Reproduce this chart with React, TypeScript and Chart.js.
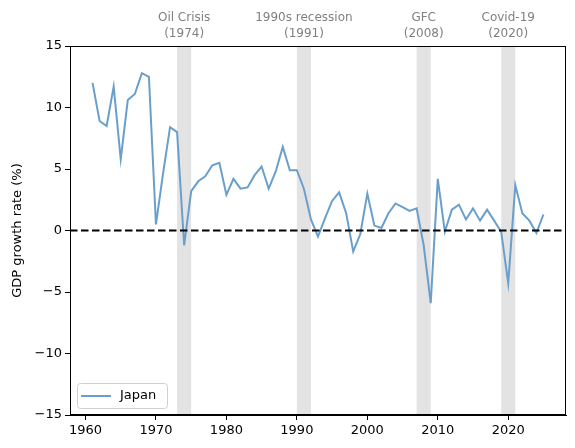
import { useEffect, useRef } from "react";
import { Chart, registerables } from "chart.js";

Chart.register(...registerables);

// anos e crescimento do PIB (Japão)
const years = [
  1961, 1962, 1963, 1964, 1965, 1966, 1967, 1968, 1969, 1970,
  1971, 1972, 1973, 1974, 1975, 1976, 1977, 1978, 1979, 1980,
  1981, 1982, 1983, 1984, 1985, 1986, 1987, 1988, 1989, 1990,
  1991, 1992, 1993, 1994, 1995, 1996, 1997, 1998, 1999, 2000,
  2001, 2002, 2003, 2004, 2005, 2006, 2007, 2008, 2009, 2010,
  2011, 2012, 2013, 2014, 2015, 2016, 2017, 2018, 2019, 2020,
  2021, 2022, 2023, 2024, 2025,
];
const growth = [
  12.0, 8.9, 8.5, 11.7, 5.8, 10.6, 11.1, 12.8, 12.5, 0.5,
  4.6, 8.4, 8.0, -1.2, 3.2, 4.0, 4.4, 5.3, 5.5, 2.9,
  4.2, 3.4, 3.5, 4.5, 5.2, 3.4, 4.8, 6.8, 4.9, 4.9,
  3.4, 0.9, -0.5, 1.0, 2.4, 3.1, 1.4, -1.7, -0.3, 3.0,
  0.4, 0.2, 1.4, 2.2, 1.9, 1.6, 1.8, -1.2, -5.9, 4.2,
  -0.1, 1.7, 2.1, 0.9, 1.8, 0.8, 1.7, 0.8, -0.1, -4.3,
  3.7, 1.4, 0.8, -0.2, 1.3,
];

// crises: início, fim, ano do rótulo
const crisisNames = ["Oil Crisis", "1990s recession", "GFC", "Covid-19"];
const crisisStart = [1973, 1990, 2007, 2019];
const crisisEnd = [1975, 1992, 2009, 2021];
const crisisYear = [1974, 1991, 2008, 2020];

const xTicks = [1960, 1970, 1980, 1990, 2000, 2010, 2020];

const FONT = "'DejaVu Sans', sans-serif";

const extrasPlugin = {
  id: "extras",
  beforeDatasetsDraw(chart: any) {
    const { ctx, chartArea, scales } = chart;
    ctx.save();
    ctx.fillStyle = "rgba(128,128,128,0.22)";
    crisisStart.forEach((s, i) => {
      const x0 = scales.x.getPixelForValue(s);
      const x1 = scales.x.getPixelForValue(crisisEnd[i]);
      ctx.fillRect(x0, chartArea.top, x1 - x0, chartArea.bottom - chartArea.top);
    });
    ctx.restore();
  },
  afterDatasetsDraw(chart: any) {
    const { ctx, chartArea, scales } = chart;
    ctx.save();
    // linha do zero
    const y0 = scales.y.getPixelForValue(0);
    ctx.strokeStyle = "#000";
    ctx.lineWidth = 2;
    ctx.setLineDash([7.5, 3.5]);
    ctx.beginPath();
    ctx.moveTo(chartArea.left, y0);
    ctx.lineTo(chartArea.right, y0);
    ctx.stroke();
    ctx.setLineDash([]);

    // moldura
    ctx.lineWidth = 1;
    ctx.strokeRect(
      chartArea.left + 0.5,
      chartArea.top + 0.5,
      chartArea.right - chartArea.left - 1,
      chartArea.bottom - chartArea.top - 1
    );

    // rótulos das crises
    ctx.fillStyle = "#808080";
    ctx.font = `12px ${FONT}`;
    ctx.textAlign = "center";
    ctx.textBaseline = "middle";
    crisisNames.forEach((name, i) => {
      const x = scales.x.getPixelForValue(crisisYear[i]);
      ctx.fillText(name, x, chartArea.top - 28);
      ctx.fillText(`(${crisisYear[i]})`, x, chartArea.top - 12);
    });

    // legenda
    const lx = chartArea.left + 7;
    const ly = chartArea.bottom - 32;
    ctx.fillStyle = "rgba(255,255,255,0.8)";
    ctx.strokeStyle = "#d0d0d0";
    ctx.lineWidth = 1;
    ctx.beginPath();
    ctx.roundRect(lx + 0.5, ly + 0.5, 90, 25, 3);
    ctx.fill();
    ctx.stroke();
    ctx.strokeStyle = "#6b9fcb";
    ctx.lineWidth = 2;
    ctx.beginPath();
    ctx.moveTo(lx + 4, ly + 13);
    ctx.lineTo(lx + 34, ly + 13);
    ctx.stroke();
    ctx.fillStyle = "#000";
    ctx.font = `13px ${FONT}`;
    ctx.textAlign = "left";
    ctx.fillText("Japan", lx + 43, ly + 13);
    ctx.restore();
  },
};

export default function App() {
  const canvasRef = useRef<HTMLCanvasElement>(null);
  const chartRef = useRef<Chart | null>(null);

  useEffect(() => {
    document.body.style.margin = "0";
    if (!canvasRef.current) return;
    if (chartRef.current) chartRef.current.destroy();

    chartRef.current = new Chart(canvasRef.current, {
      type: "line",
      data: {
        datasets: [
          {
            label: "Japan",
            data: years.map((y, i) => ({ x: y, y: growth[i] })),
            borderColor: "#6b9fcb",
            borderWidth: 2,
            pointRadius: 0,
            tension: 0,
            fill: false,
          },
        ],
      },
      options: {
        animation: false,
        responsive: false,
        maintainAspectRatio: false,
        layout: { padding: { top: 46, right: 9, left: 0, bottom: 0 } },
        plugins: {
          legend: { display: false },
          tooltip: { enabled: false },
        },
        scales: {
          x: {
            type: "linear",
            min: 1957.8,
            max: 2028.2,
            afterBuildTicks: (scale: any) => {
              scale.ticks = xTicks.map((v) => ({ value: v }));
            },
            afterFit: (scale: any) => {
              scale.height = 33;
            },
            grid: {
              drawOnChartArea: false,
              drawTicks: true,
              tickLength: 5,
              color: "#000",
            },
            border: { display: true, color: "#000" },
            ticks: {
              color: "#000",
              font: { family: FONT, size: 13 },
              padding: 3,
              maxRotation: 0,
              callback: (v: any) => String(v),
            },
          },
          y: {
            min: -15,
            max: 15,
            afterFit: (scale: any) => {
              scale.width = 70;
            },
            grid: {
              drawOnChartArea: false,
              drawTicks: true,
              tickLength: 5,
              color: "#000",
            },
            border: { display: true, color: "#000" },
            ticks: {
              stepSize: 5,
              color: "#000",
              font: { family: FONT, size: 13 },
              padding: 3,
              callback: (v: any) =>
                Number(v) < 0 ? "\u2212" + Math.abs(Number(v)) : String(v),
            },
            title: {
              display: true,
              text: "GDP growth rate (%)",
              color: "#000",
              font: { family: FONT, size: 13 },
              padding: { top: 10, bottom: 0 },
            },
          },
        },
      },
      plugins: [extrasPlugin],
    });

    return () => {
      if (chartRef.current) {
        chartRef.current.destroy();
        chartRef.current = null;
      }
    };
  }, []);

  return (
    <div style={{ width: 575, height: 448, background: "#fff" }}>
      <canvas ref={canvasRef} width={575} height={448} />
    </div>
  );
}
